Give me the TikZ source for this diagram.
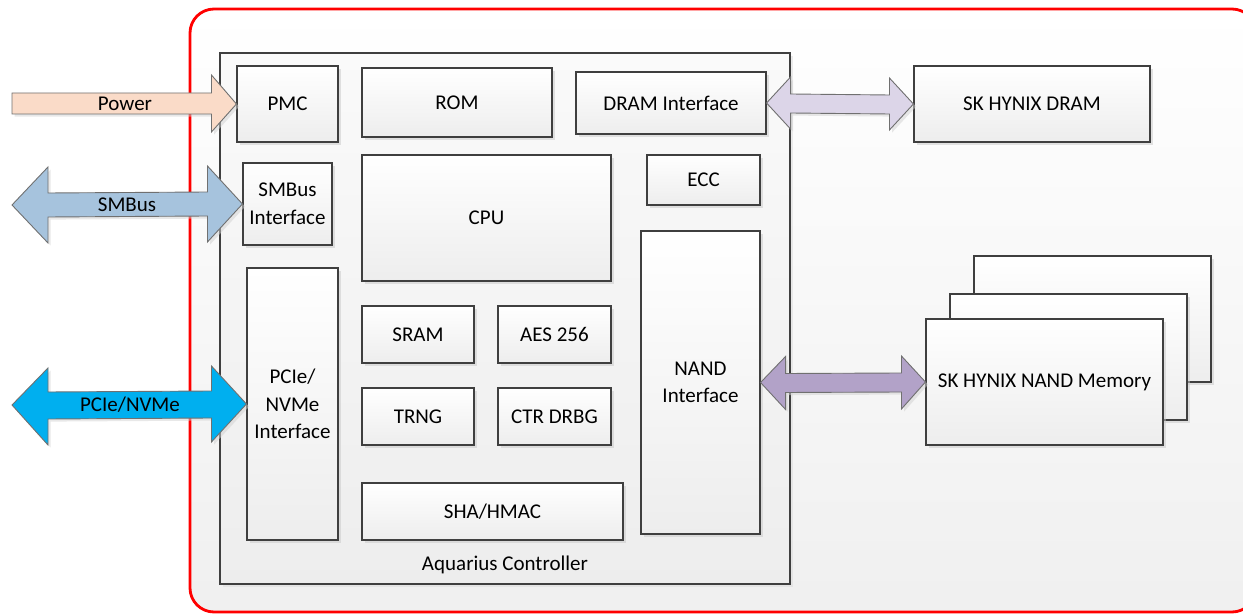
\documentclass[tikz,border=0pt]{standalone}
\usepackage{fontspec}
\setmainfont{Carlito}
\usetikzlibrary{calc,shadows}
\definecolor{boxline}{HTML}{3F3F3F}
\definecolor{arrline}{HTML}{707070}
\definecolor{powerc}{HTML}{FADBC8}
\definecolor{smbc}{HTML}{A6C3DD}
\definecolor{pciec}{HTML}{00AFEF}
\definecolor{dramc}{HTML}{DCD5E8}
\definecolor{nandc}{HTML}{B2A2C8}
\tikzset{
  blk/.style={draw=boxline, line width=0.55pt, top color=white, bottom color=black!7,
    drop shadow={shadow xshift=1.6pt, shadow yshift=-1.6pt, fill=black!22},
    align=center, inner sep=0pt, font=\fontsize{10.5pt}{13.8pt}\selectfont},
  barrow/.style={draw=arrline, line width=0.45pt,
    drop shadow={shadow xshift=1.3pt, shadow yshift=-1.3pt, fill=black!18}},
  lbl/.style={inner sep=0pt, font=\fontsize{10.5pt}{13.8pt}\selectfont}
}
% \mkblk{name}{x1}{y1}{x2}{y2}{text}
\newcommand{\mkblk}[6]{\node[blk, minimum width={(#4-#2)*0.5pt}, minimum height={(#5-#3)*0.5pt}]
  (#1) at ({(#2+#4)/2},{(#3+#5)/2}) {#6};}
\begin{document}
\begin{tikzpicture}[x=0.5pt,y=-0.5pt]
\useasboundingbox (0,0) rectangle (1243,614);
\clip (0,0) rectangle (1243,614);
% outer red frame
\draw[red, line width=1.4pt, rounded corners=12pt, top color=white, bottom color=black!6]
  (190,9) rectangle (1256,612);
% controller box
\node[draw=boxline, line width=0.55pt, top color=white!98!black, bottom color=black!7,
  drop shadow={shadow xshift=1.6pt, shadow yshift=-1.6pt, fill=black!15},
  minimum width={570*0.5pt}, minimum height={531*0.5pt}, inner sep=0pt] (ctrl) at (505,318.5) {};
\node[lbl] (ctrllbl) at (505,565) {Aquarius Controller};
% blocks
\mkblk{pmc}{237}{66}{338}{142}{PMC}
\mkblk{rom}{362}{68}{552}{137}{ROM}
\mkblk{dramif}{576}{72}{766}{134}{DRAM Interface}
\mkblk{dram}{914}{66}{1150}{142}{SK HYNIX DRAM}
\mkblk{smb}{243}{163}{332}{245}{SMBus\\Interface}
\mkblk{cpu}{362}{155}{611}{281}{CPU}
\mkblk{ecc}{647}{155}{760}{205}{ECC}
\mkblk{nandif}{641}{231}{760}{534}{NAND\\Interface}
\mkblk{pcie}{247}{268}{338}{540}{PCIe/\\NVMe\\Interface}
\mkblk{sram}{362}{306}{474}{363}{SRAM}
\mkblk{aes}{498}{306}{611}{363}{AES 256}
\mkblk{trng}{362}{388}{474}{445}{TRNG}
\mkblk{ctr}{498}{388}{611}{445}{CTR DRBG}
\mkblk{sha}{362}{483}{623}{540}{SHA/HMAC}
% NAND stack
\mkblk{nand3}{974}{256}{1211}{382}{}
\mkblk{nand2}{950}{294}{1187}{420}{}
\mkblk{nand}{926}{319}{1163}{445}{SK HYNIX NAND Memory}
% free ends
\coordinate (powertail) at (12,104);
\coordinate (smbtail) at (12,205);
\coordinate (pcietail) at (12,405);
% Power arrow
\draw[barrow, fill=powerc] ($(powertail)+(0,-11)$) -- ($(pmc.west)+(-25,-11)$) -- ($(pmc.west)+(-25,-29)$)
  -- (pmc.west) -- ($(pmc.west)+(-25,28)$) -- ($(pmc.west)+(-25,10)$) -- ($(powertail)+(0,10)$) -- cycle;
\node[lbl] (powerlbl) at (125,104) {Power};
% SMBus arrow
\draw[barrow, fill=smbc] (smbtail) -- ($(smbtail)+(36,-38)$) -- ($(smbtail)+(36,-12)$)
  -- ($(smb.west)+(-35,-12)$) -- ($(smb.west)+(-35,-38)$) -- (smb.west) -- ($(smb.west)+(-35,38)$)
  -- ($(smb.west)+(-35,12)$) -- ($(smbtail)+(36,12)$) -- ($(smbtail)+(36,38)$) -- cycle;
\node[lbl] (smblbl) at (127,205) {SMBus};
% PCIe arrow
\draw[barrow, fill=pciec] (pcietail) -- ($(pcietail)+(36,-37)$) -- ($(pcietail)+(36,-13)$)
  -- ($(pcie.west)+(-35,-13)$) -- ($(pcie.west)+(-35,-38)$) -- (pcie.west) -- ($(pcie.west)+(-35,38)$)
  -- ($(pcie.west)+(-35,14)$) -- ($(pcietail)+(36,14)$) -- ($(pcietail)+(36,40)$) -- cycle;
\node[lbl] (pcielbl) at (130,405) {PCIe/NVMe};
% DRAM arrow
\draw[barrow, fill=dramc] (dramif.east) -- ($(dramif.east)+(24,-26)$) -- ($(dramif.east)+(24,-9)$)
  -- ($(dram.west)+(-24,-9)$) -- ($(dram.west)+(-24,-26)$) -- (dram.west) -- ($(dram.west)+(-24,26)$)
  -- ($(dram.west)+(-24,10)$) -- ($(dramif.east)+(24,10)$) -- ($(dramif.east)+(24,26)$) -- cycle;
% NAND arrow
\draw[barrow, fill=nandc] (nandif.east) -- ($(nandif.east)+(25,-26)$) -- ($(nandif.east)+(25,-9)$)
  -- ($(nand.west)+(-24,-9)$) -- ($(nand.west)+(-24,-26)$) -- (nand.west) -- ($(nand.west)+(-24,27)$)
  -- ($(nand.west)+(-24,10)$) -- ($(nandif.east)+(25,10)$) -- ($(nandif.east)+(25,27)$) -- cycle;
\end{tikzpicture}
\end{document}
